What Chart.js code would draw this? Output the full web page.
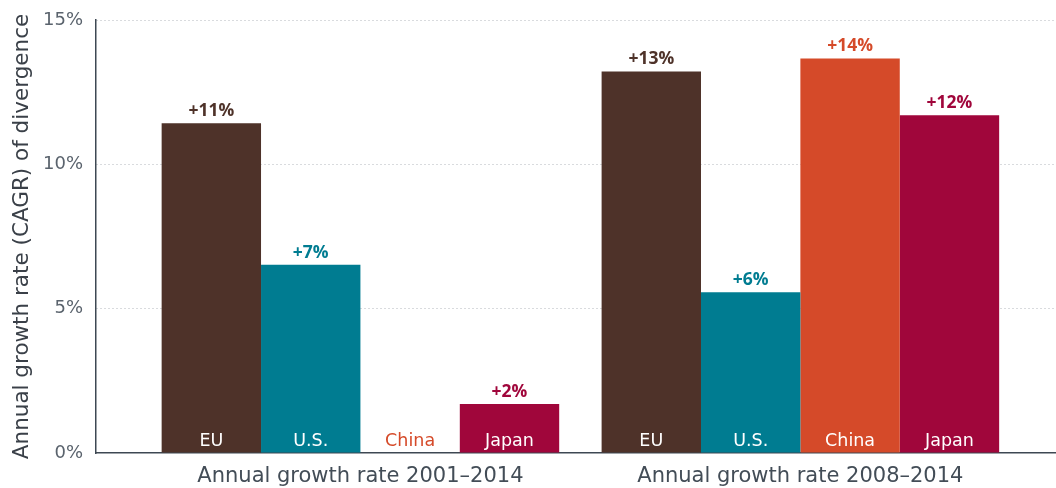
<!DOCTYPE html>
<html>
<head>
<meta charset="utf-8">
<script src="https://cdn.jsdelivr.net/npm/chart.js@4.4.1/dist/chart.umd.min.js"></script>
<style>
  html, body { margin: 0; padding: 0; background: #ffffff; }
  #wrap { width: 1056px; height: 488px; position: relative; }
</style>
</head>
<body>
<div id="wrap"><canvas id="c" width="1056" height="488"></canvas></div>
<script>
// ---- data ----
const groups = ['Annual growth rate 2001\u20132014', 'Annual growth rate 2008\u20132014'];
const regions = ['EU', 'U.S.', 'China', 'Japan'];
const euValues = [11.42, 13.22];
const usValues = [6.52, 5.57];
const chinaValues = [null, 13.67];
const japanValues = [1.7, 11.7];
const yTicks = [0, 5, 10, 15];
const colors = ['#4e3229', '#007c91', '#d54a29', '#a0063b'];

const seriesValues = [euValues, usValues, chinaValues, japanValues];
const FONT = "'DejaVu Sans', 'Noto Sans', sans-serif";
const FONTB = "'Open Sans', 'Noto Sans', sans-serif";

const datasets = regions.map((r, i) => ({
  label: r,
  data: seriesValues[i].map((v, g) => ({ x: g, y: v })),
  backgroundColor: colors[i],
  borderWidth: 0,
  barPercentage: 1,
  categoryPercentage: 0.9036
}));

const labelPlugin = {
  id: 'barLabels',
  afterDatasetsDraw(chart) {
    const ctx = chart.ctx;
    const ys = chart.scales.y;
    const xs = chart.scales.x;
    const base = ys.getPixelForValue(0);
    chart.data.datasets.forEach((ds, i) => {
      const meta = chart.getDatasetMeta(i);
      meta.data.forEach((el, j) => {
        const v = seriesValues[i][j];
        let x = el.x;
        if (!isFinite(x)) {
          x = xs.getPixelForValue(j);
        }
        ctx.save();
        ctx.textAlign = 'center';
        ctx.textBaseline = 'middle';
        // category name at bar bottom
        ctx.font = "17.5px " + FONT;
        const hasBar = v !== null && (base - ys.getPixelForValue(v)) > 30;
        ctx.fillStyle = hasBar ? '#ffffff' : colors[i];
        ctx.fillText(regions[i], x, base - 12);
        // value label above bar
        if (v !== null) {
          ctx.font = "bold 17.5px " + FONTB;
          ctx.fillStyle = colors[i];
          ctx.fillText('+' + Math.round(v) + '%', x, ys.getPixelForValue(v) - 12);
        }
        ctx.restore();
      });
    });
  }
};

new Chart(document.getElementById('c'), {
  type: 'bar',
  data: { datasets },
  plugins: [labelPlugin],
  options: {
    responsive: false,
    animation: false,
    devicePixelRatio: 1,
    layout: { padding: { top: 20, right: 0, left: 0, bottom: 0 } },
    plugins: { legend: { display: false }, tooltip: { enabled: false } },
    scales: {
      x: {
        type: 'linear',
        min: -0.601,
        max: 1.581,
        offset: false,
        afterBuildTicks(scale) { scale.ticks = groups.map((g, i) => ({ value: i })); },
        afterFit(scale) { scale.height = 35; scale.paddingLeft = 0; scale.paddingRight = 0; },
        ticks: {
          autoSkip: false,
          maxRotation: 0,
          padding: 11,
          color: '#434d57',
          font: { family: FONT, size: 21 },
          callback: (v) => groups[v]
        },
        grid: { display: false, drawTicks: false },
        border: { display: true, color: '#3e4853', width: 1.5 }
      },
      y: {
        min: 0,
        max: 15,
        afterBuildTicks(scale) { scale.ticks = yTicks.map(v => ({ value: v })); },
        afterFit(scale) { scale.width = 96; scale.paddingTop = 0; scale.paddingBottom = 0; },
        ticks: {
          padding: 13,
          color: '#5a636d',
          font: { family: FONT, size: 18 },
          callback: (v) => v + '%'
        },
        grid: {
          drawTicks: false,
          color: (c) => c.tick.value === 0 ? 'rgba(0,0,0,0)' : '#b3b7bc',
          lineWidth: 1
        },
        border: { display: true, color: '#3e4853', width: 1.5, dash: [1, 3] },
        title: {
          display: true,
          text: 'Annual growth rate (CAGR) of divergence',
          color: '#3a4048',
          font: { family: FONT, size: 21.5 },
          padding: { top: 10, bottom: 0 }
        }
      }
    }
  }
});
</script>
</body>
</html>
